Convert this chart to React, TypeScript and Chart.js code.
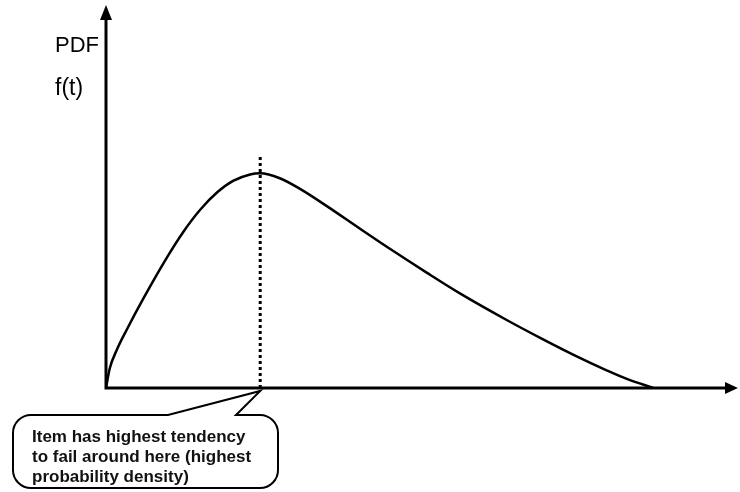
import React, { useEffect, useRef } from "react";
import { Chart, registerables } from "chart.js";

Chart.register(...registerables);

// Failure-time probability density curve f(t)
const tValues = [0, 0.06, 0.17, 0.33, 0.59, 0.97, 1.22, 1.49, 1.76, 2.01, 2.28, 2.44, 2.75, 3.07, 3.5, 4.02, 4.54, 5.08, 5.6, 6.34, 6.87, 7.39, 7.93, 8.24, 8.66];
const pdfValues = [0, 0.52, 1.0, 1.54, 2.35, 3.45, 4.1, 4.69, 5.15, 5.45, 5.62, 5.65, 5.52, 5.24, 4.78, 4.19, 3.61, 3.03, 2.49, 1.79, 1.32, 0.88, 0.46, 0.24, 0];

// Height reached by the dotted marker above the mode
const modeMarkerTop = 6.13;

const yAxisLabels = ["PDF", "f(t)"];
const calloutLines = [
  "Item has highest tendency",
  "to fail around here (highest",
  "probability density)",
];

const FONT = '"Liberation Sans", Arial, sans-serif';

function modeIndex(): number {
  let best = 0;
  pdfValues.forEach((v, i) => {
    if (v > pdfValues[best]) best = i;
  });
  return best;
}

const diagramPlugin = {
  id: "pdfDiagram",
  afterDatasetsDraw(chart: any) {
    const { ctx, chartArea, scales } = chart;
    const xs = scales.x;
    const ys = scales.y;
    const ox = xs.getPixelForValue(0);
    const oy = ys.getPixelForValue(0);

    ctx.save();
    ctx.strokeStyle = "#000";
    ctx.fillStyle = "#000";
    ctx.lineWidth = 3;
    ctx.lineCap = "butt";

    // axes
    ctx.beginPath();
    ctx.moveTo(ox, oy + 1.5);
    ctx.lineTo(ox, chartArea.top + 10);
    ctx.moveTo(ox - 1.5, oy);
    ctx.lineTo(chartArea.right - 10, oy);
    ctx.stroke();

    // arrow heads
    ctx.beginPath();
    ctx.moveTo(ox, chartArea.top - 3);
    ctx.lineTo(ox - 6, chartArea.top + 12);
    ctx.lineTo(ox + 6, chartArea.top + 12);
    ctx.closePath();
    ctx.fill();
    ctx.beginPath();
    ctx.moveTo(chartArea.right, oy);
    ctx.lineTo(chartArea.right - 13, oy - 6);
    ctx.lineTo(chartArea.right - 13, oy + 6);
    ctx.closePath();
    ctx.fill();

    // y-axis labels
    ctx.textBaseline = "alphabetic";
    ctx.textAlign = "left";
    ctx.font = `22px ${FONT}`;
    ctx.fillText(yAxisLabels[0], ox - 51, 52);
    ctx.font = `23px ${FONT}`;
    ctx.fillText(yAxisLabels[1], ox - 51, 95);

    // callout bubble pointing at the mode
    const mi = modeIndex();
    const tipX = xs.getPixelForValue(tValues[mi]);
    const tipY = oy + 3;
    const x0 = 13, x1 = 278, y0 = 415, y1 = 488, r = 18;
    const baseA = 168, baseB = 236;
    ctx.lineWidth = 2;
    ctx.beginPath();
    ctx.moveTo(x0 + r, y0);
    ctx.lineTo(baseA, y0);
    ctx.lineTo(tipX, tipY);
    ctx.lineTo(baseB, y0);
    ctx.lineTo(x1 - r, y0);
    ctx.arcTo(x1, y0, x1, y0 + r, r);
    ctx.lineTo(x1, y1 - r);
    ctx.arcTo(x1, y1, x1 - r, y1, r);
    ctx.lineTo(x0 + r, y1);
    ctx.arcTo(x0, y1, x0, y1 - r, r);
    ctx.lineTo(x0, y0 + r);
    ctx.arcTo(x0, y0, x0 + r, y0, r);
    ctx.closePath();
    ctx.fillStyle = "#fff";
    ctx.fill();
    ctx.stroke();

    ctx.fillStyle = "#111";
    ctx.font = `bold 17px ${FONT}`;
    calloutLines.forEach((line, i) => {
      ctx.fillText(line, 32, 442 + i * 20);
    });
    ctx.restore();
  },
};

export default function App() {
  const canvasRef = useRef<HTMLCanvasElement | null>(null);

  useEffect(() => {
    if (!canvasRef.current) return;
    const mi = modeIndex();
    const curve = tValues.map((t, i) => ({ x: t, y: pdfValues[i] }));
    const modeLine = [
      { x: tValues[mi], y: 0 },
      { x: tValues[mi], y: modeMarkerTop },
    ];
    const chart = new Chart(canvasRef.current, {
      type: "scatter",
      data: {
        datasets: [
          {
            data: curve,
            showLine: true,
            borderColor: "#000",
            borderWidth: 2.5,
            pointRadius: 0,
            cubicInterpolationMode: "monotone",
            fill: false,
          },
          {
            data: modeLine,
            showLine: true,
            borderColor: "#000",
            borderWidth: 3,
            borderDash: [3, 3],
            pointRadius: 0,
            fill: false,
          },
        ],
      },
      options: {
        animation: false,
        responsive: false,
        maintainAspectRatio: false,
        layout: { padding: { left: 106, right: 2, top: 8, bottom: 104 } },
        plugins: { legend: { display: false }, tooltip: { enabled: false } },
        scales: {
          x: { type: "linear", min: 0, max: 10, display: false },
          y: { type: "linear", min: 0, max: 10, display: false },
        },
      },
      plugins: [diagramPlugin],
    });
    return () => chart.destroy();
  }, []);

  return (
    <div style={{ position: "fixed", left: 0, top: 0, width: 740, height: 492, background: "#fff" }}>
      <canvas ref={canvasRef} width={740} height={492} style={{ display: "block" }} />
    </div>
  );
}
